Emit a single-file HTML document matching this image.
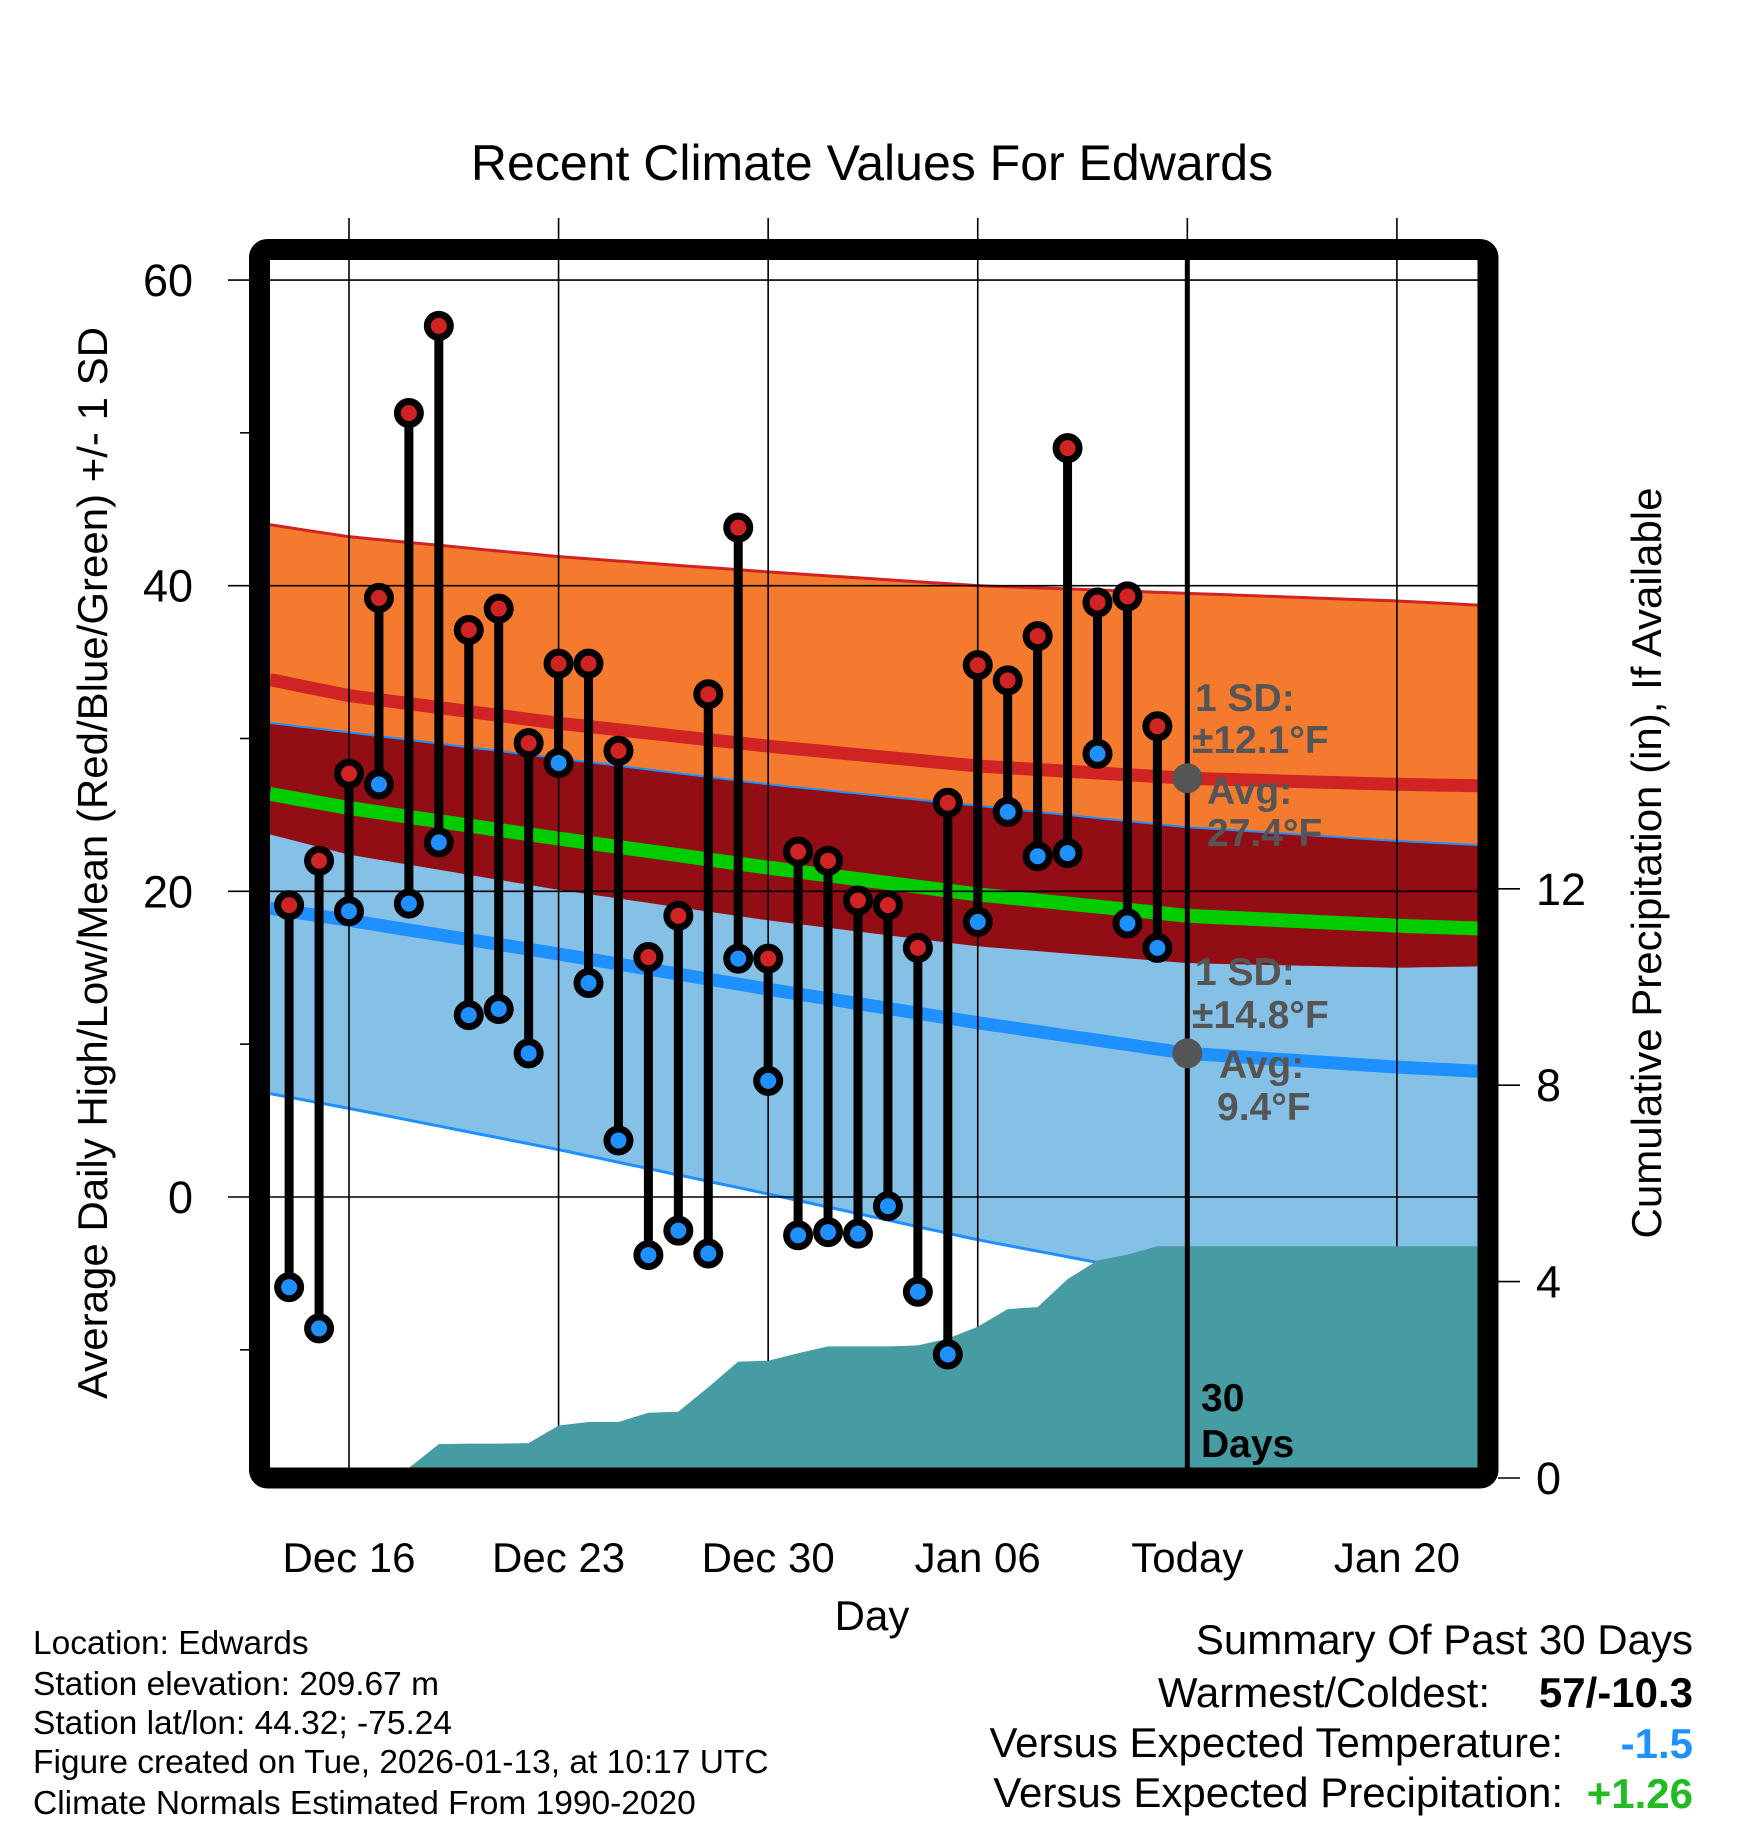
<!DOCTYPE html>
<html><head><meta charset="utf-8"><style>
html,body{margin:0;padding:0;background:#fff;}
svg{display:block;font-family:"Liberation Sans",Arial,sans-serif;}
</style></head><body>
<svg id="chart" width="1748" height="1828" viewBox="0 0 1748 1828" xmlns="http://www.w3.org/2000/svg">
<text x="872" y="180" font-size="50" text-anchor="middle">Recent Climate Values For Edwards</text>
<g id="bands"></g>
<g id="grid"></g>
<g id="precip"></g>
<g id="marks"></g>
<g id="axes"></g>
<g fill="#555" font-weight="bold" font-size="39">
<text x="1195" y="711">1 SD:</text><text x="1192" y="753">±12.1°F</text>
<text x="1207" y="804">Avg:</text><text x="1207" y="846">27.4°F</text>
</g>
<g fill="#555" font-weight="bold" font-size="39">
<text x="1195" y="985">1 SD:</text><text x="1192" y="1028">±14.8°F</text>
<text x="1219" y="1078">Avg:</text><text x="1217" y="1120">9.4°F</text>
</g>
<g font-weight="bold" font-size="39">
<text x="1201" y="1411">30</text><text x="1201" y="1457">Days</text>
</g>
<text x="872" y="1630" font-size="42" text-anchor="middle">Day</text>
<text transform="translate(107,863) rotate(-90)" font-size="42" text-anchor="middle">Average Daily High/Low/Mean (Red/Blue/Green) +/- 1 SD</text>
<text transform="translate(1661,863) rotate(-90)" font-size="42" text-anchor="middle">Cumulative Precipitation (in), If Available</text>
<g font-size="33.5">
<text x="33" y="1654">Location: Edwards</text>
<text x="33" y="1695">Station elevation: 209.67 m</text>
<text x="33" y="1734">Station lat/lon: 44.32; -75.24</text>
<text x="33" y="1773">Figure created on Tue, 2026-01-13, at 10:17 UTC</text>
<text x="33" y="1814">Climate Normals Estimated From 1990-2020</text>
</g>
<g font-size="42" text-anchor="end">
<text x="1693" y="1654">Summary Of Past 30 Days</text>
<text x="1490" y="1707">Warmest/Coldest:</text>
<text x="1693" y="1707" font-weight="bold">57/-10.3</text>
<text x="1563" y="1757">Versus Expected Temperature:</text>
<text x="1693" y="1758" font-weight="bold" fill="#1E90FF">-1.5</text>
<text x="1563" y="1807">Versus Expected Precipitation:</text>
<text x="1693" y="1808" font-weight="bold" fill="#22BB22">+1.26</text>
</g>
</svg>
<script>
const normDays=[-3,0,7,14,21,28,35,38];
const highMean=[34.0,32.8,31.0,29.5,28.2,27.4,27.0,26.9];
const highSD=[10.1,10.4,10.9,11.4,11.8,12.1,12.0,11.8];
const lowMean=[19.0,18.1,15.9,13.6,11.4,9.4,8.5,8.2];
const lowSD=[12.1,12.3,12.8,13.4,14.2,14.8,14.8,14.8];
const obsDays=[-2,-1,0,1,2,3,4,5,6,7,8,9,10,11,12,13,14,15,16,17,18,19,20,21,22,23,24,25,26,27];
const highs=[19.1,22.0,27.7,39.2,51.3,57.0,37.1,38.5,29.7,34.9,34.9,29.2,15.7,18.4,32.9,43.8,15.6,22.6,22.0,19.4,19.1,16.3,25.8,34.8,33.8,36.7,49.0,38.9,39.3,30.8];
const lows=[-5.9,-8.6,18.7,27.0,19.2,23.2,11.9,12.3,9.4,28.4,14.0,3.7,-3.8,-2.2,-3.7,15.6,7.6,-2.5,-2.3,-2.4,-0.6,-6.2,-10.3,18.0,25.2,22.3,22.5,29.0,17.9,16.3];
const precipDays=[2,3,4,5,6,7,8,9,10,11,12,13,14,15,16,17,18,19,20,21,22,23,24,25,26,27,28,37.7];
const precip=[0,0.69,0.70,0.70,0.71,1.07,1.14,1.14,1.33,1.35,1.85,2.37,2.39,2.54,2.68,2.68,2.68,2.70,2.84,3.08,3.44,3.48,4.05,4.43,4.55,4.72,4.72,4.72];
const tempTicks=[0,20,40,60];
const precipTicks=[0,4,8,12];
const dateTicks=[0,7,14,21,28,35];
const dateLabels=["Dec 16","Dec 23","Dec 30","Jan 06","Today","Jan 20"];
const todayDay=28;

const NS="http://www.w3.org/2000/svg";
const L=270,R=1478,T=260,B=1468;
const xS=d=>349+d*29.94;
const yT=v=>1197-v*15.283;
const yP=v=>1478-v*49.1;
const dMin=(L-349)/29.94,dMax=(R-349)/29.94;
function mk(tag,attrs,parent){const e=document.createElementNS(NS,tag);for(const k in attrs)e.setAttribute(k,attrs[k]);parent.appendChild(e);return e;}
function interp(arr,d){for(let i=0;i<normDays.length-1;i++){if(d<=normDays[i+1]){const t=(d-normDays[i])/(normDays[i+1]-normDays[i]);return arr[i]+(arr[i+1]-arr[i])*t;}}return arr[arr.length-1];}
const samp=[];for(let d=dMin;d<dMax;d+=0.5)samp.push(d);samp.push(dMax);
function curve(f){return samp.map(d=>[xS(d),yT(f(d))]);}
function pts(a){return a.map(p=>p[0].toFixed(1)+","+p[1].toFixed(1)).join(" ");}
const bands=document.getElementById('bands');
const hTop=curve(d=>interp(highMean,d)+interp(highSD,d));
const hBot=curve(d=>interp(highMean,d)-interp(highSD,d));
const lTop=curve(d=>interp(lowMean,d)+interp(lowSD,d));
const lBot=curve(d=>interp(lowMean,d)-interp(lowSD,d));
let e;
e=mk('polygon',{points:pts(hTop.concat(hBot.slice().reverse())),fill:'#F47B2D'},bands);

e=mk('polygon',{points:pts(lTop.concat(lBot.slice().reverse())),fill:'#85C1E6'},bands);

e=mk('polygon',{points:pts(lTop.concat(hBot.slice().reverse())),fill:'#920D14'},bands);

e=mk('polyline',{points:pts(hTop),fill:'none',stroke:'#D02424',"stroke-width":3},bands);

e=mk('polyline',{points:pts(lTop),fill:'none',stroke:'#1E90FF',"stroke-width":2},bands);

e=mk('polyline',{points:pts(lBot),fill:'none',stroke:'#1E90FF',"stroke-width":3},bands);

e=mk('polyline',{points:pts(curve(d=>interp(highMean,d))),fill:'none',stroke:'#D02424',"stroke-width":13},bands);

e=mk('polyline',{points:pts(curve(d=>(interp(highMean,d)+interp(lowMean,d))/2)),fill:'none',stroke:'#00CC00',"stroke-width":14},bands);

e=mk('polyline',{points:pts(curve(d=>interp(lowMean,d))),fill:'none',stroke:'#1E90FF',"stroke-width":13},bands);


const grid=document.getElementById('grid');
tempTicks.forEach(v=>{e=mk('line',{x1:228,x2:R,y1:yT(v),y2:yT(v),stroke:'#000',"stroke-width":1.6},grid);
});
[10,30,50,-10].forEach(v=>{e=mk('line',{x1:240,x2:250,y1:yT(v),y2:yT(v),stroke:'#000',"stroke-width":1.6},grid);
});
dateTicks.forEach(d=>{e=mk('line',{x1:xS(d),x2:xS(d),y1:218,y2:B,stroke:'#000',"stroke-width":1.6},grid);
});

const pg=document.getElementById('precip');
const pp=precipDays.map((d,i)=>[xS(Math.min(d,dMax)),Math.min(yP(precip[i]),B)]);
pp.push([R,B]);pp.unshift([xS(precipDays[0]),B]);
e=mk('polygon',{points:pts(pp),fill:'#479BA3'},pg);


const marks=document.getElementById('marks');
e=mk('line',{x1:xS(todayDay),x2:xS(todayDay),y1:T,y2:B,stroke:'#000',"stroke-width":5},marks);

e=mk('circle',{cx:xS(todayDay),cy:yT(interp(highMean,todayDay)),r:15,fill:'#555'},marks);

e=mk('circle',{cx:xS(todayDay),cy:yT(interp(lowMean,todayDay)),r:15,fill:'#555'},marks);

obsDays.forEach((d,i)=>{
 const x=xS(d);
 e=mk('line',{x1:x,x2:x,y1:yT(highs[i]),y2:yT(lows[i]),stroke:'#000',"stroke-width":9},marks);
 
 e=mk('circle',{cx:x,cy:yT(highs[i]),r:11.5,fill:'#D02424',stroke:'#000',"stroke-width":7},marks);
 
 e=mk('circle',{cx:x,cy:yT(lows[i]),r:11.5,fill:'#1E90FF',stroke:'#000',"stroke-width":7},marks);
 
});

const ax=document.getElementById('axes');
e=mk('rect',{x:259.5,y:249.5,width:1228.5,height:1228.5,rx:8,fill:'none',stroke:'#000',"stroke-width":21},ax);

tempTicks.forEach(v=>{e=mk('text',{x:193,y:yT(v)+16,"font-size":45,"text-anchor":"end"},ax);e.textContent=v;
});
precipTicks.forEach(v=>{e=mk('line',{x1:1498,x2:1520,y1:yP(v),y2:yP(v),stroke:'#000',"stroke-width":1.6},ax);

e=mk('text',{x:1536,y:yP(v)+16,"font-size":45},ax);e.textContent=v;
});
dateTicks.forEach((d,i)=>{e=mk('text',{x:xS(d),y:1572,"font-size":42,"text-anchor":"middle"},ax);e.textContent=dateLabels[i];
});
</script>
</body></html>
